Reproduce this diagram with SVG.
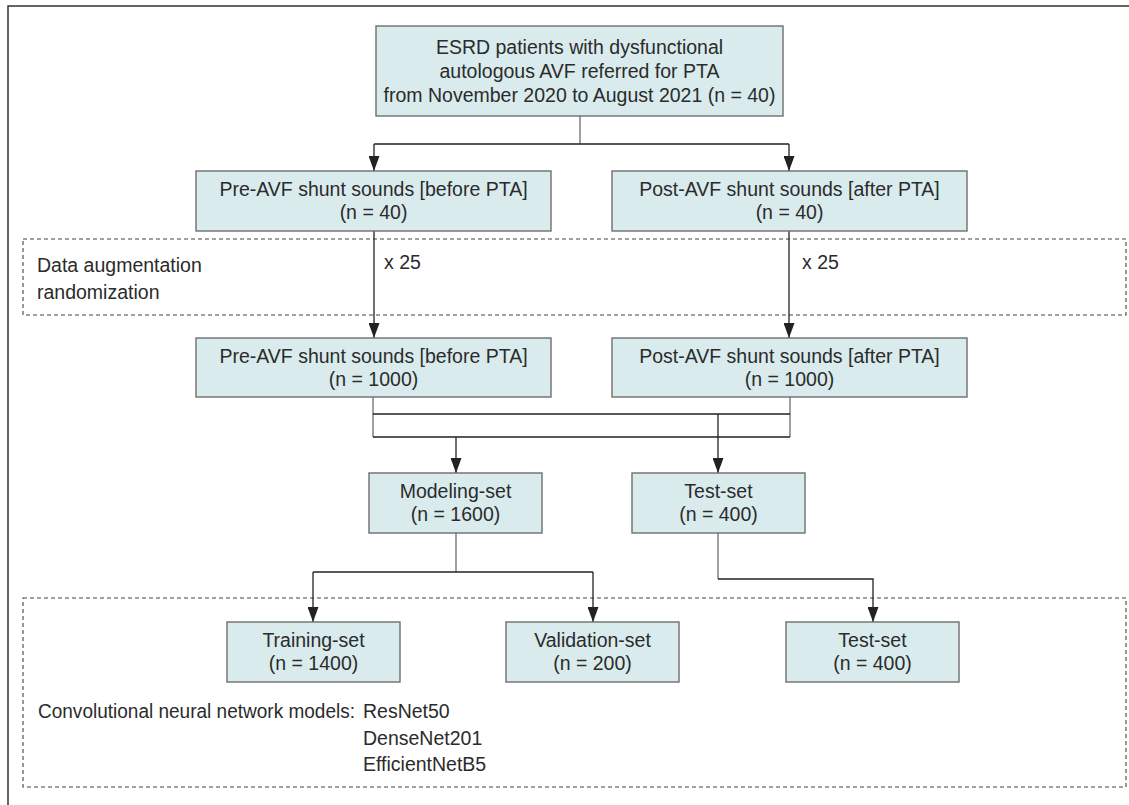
<svg xmlns="http://www.w3.org/2000/svg" width="1129" height="805" viewBox="0 0 1129 805">
<style>
.box{fill:#d9ebed;stroke:#6e6e6e;stroke-width:1.4}
.t{font-family:"Liberation Sans",Arial,sans-serif;font-size:19.5px;fill:#2b2b2b}
.c{text-anchor:middle}
.dash{fill:none;stroke:#444;stroke-width:1.1;stroke-dasharray:4 3}
.ln{fill:none;stroke:#222;stroke-width:1.3}
.stem{fill:none;stroke:#777;stroke-width:1.4}
.frame{fill:none;stroke:#333;stroke-width:1.5}
</style>
<defs>
<marker id="ah" viewBox="0 0 15 11" markerUnits="userSpaceOnUse" markerWidth="15" markerHeight="11" refX="15" refY="5.5" orient="auto">
<path d="M0,0 L15,5.5 L0,11 z" fill="#222"/>
</marker>
</defs>
<rect width="1129" height="805" fill="#fff"/>
<path class="frame" d="M8,805 V6 H1129"/>
<g id="groups">
<rect class="dash" x="23" y="239" width="1103" height="76"/>
<text class="t" x="37" y="272">Data augmentation</text>
<text class="t" x="37" y="299">randomization</text>
<rect class="dash" x="23" y="598" width="1103" height="189"/>
<text class="t" x="38" y="718" textLength="317" lengthAdjust="spacingAndGlyphs">Convolutional neural network models:</text>
<text class="t" x="363" y="718">ResNet50</text>
<text class="t" x="363" y="745">DenseNet201</text>
<text class="t" x="363" y="771">EfficientNetB5</text>
</g>
<g id="connectors">
<path class="stem" d="M580,116 V144"/>
<path class="ln" d="M374,144 H789"/>
<path class="ln" d="M374,144 V171" marker-end="url(#ah)"/>
<path class="ln" d="M789,144 V171" marker-end="url(#ah)"/>
<path class="ln" d="M374,231 V338" marker-end="url(#ah)"/>
<path class="ln" d="M789,231 V338" marker-end="url(#ah)"/>
<text class="t" x="384" y="269">x 25</text>
<text class="t" x="802" y="269">x 25</text>
<path class="stem" d="M373,397 V437 M790,397 V437"/>
<path class="ln" d="M373,414 H790 M373,437 H790"/>
<path class="ln" d="M456,437 V473" marker-end="url(#ah)"/>
<path class="ln" d="M718,414 V473" marker-end="url(#ah)"/>
<path class="stem" d="M456,533 V572"/>
<path class="ln" d="M313,572 H593"/>
<path class="ln" d="M313,572 V622" marker-end="url(#ah)"/>
<path class="ln" d="M593,572 V622" marker-end="url(#ah)"/>
<path class="stem" d="M718,533 V579"/>
<path class="ln" d="M718,579 H873 V622" marker-end="url(#ah)"/>
</g>
<g id="n-top">
<rect class="box" x="376" y="26" width="407" height="90"/>
<text class="t c" x="579.5" y="54">ESRD patients with dysfunctional</text>
<text class="t c" x="579.5" y="78">autologous AVF referred for PTA</text>
<text class="t c" x="579.5" y="102">from November 2020 to August 2021 (n = 40)</text>
</g>
<g id="n-pre40">
<rect class="box" x="196" y="171" width="355" height="60"/>
<text class="t c" x="373.5" y="196">Pre-AVF shunt sounds [before PTA]</text>
<text class="t c" x="373.5" y="219">(n = 40)</text>
</g>
<g id="n-post40">
<rect class="box" x="612" y="171" width="355" height="60"/>
<text class="t c" x="789.5" y="196">Post-AVF shunt sounds [after PTA]</text>
<text class="t c" x="789.5" y="219">(n = 40)</text>
</g>
<g id="n-pre1000">
<rect class="box" x="196" y="338" width="355" height="59"/>
<text class="t c" x="373.5" y="363">Pre-AVF shunt sounds [before PTA]</text>
<text class="t c" x="373.5" y="386">(n = 1000)</text>
</g>
<g id="n-post1000">
<rect class="box" x="612" y="338" width="355" height="59"/>
<text class="t c" x="789.5" y="363">Post-AVF shunt sounds [after PTA]</text>
<text class="t c" x="789.5" y="386">(n = 1000)</text>
</g>
<g id="n-modeling">
<rect class="box" x="369" y="473" width="173" height="60"/>
<text class="t c" x="455.5" y="498">Modeling-set</text>
<text class="t c" x="455.5" y="521">(n = 1600)</text>
</g>
<g id="n-test1">
<rect class="box" x="632" y="473" width="173" height="60"/>
<text class="t c" x="718.5" y="498">Test-set</text>
<text class="t c" x="718.5" y="521">(n = 400)</text>
</g>
<g id="n-training">
<rect class="box" x="227" y="622" width="173" height="60"/>
<text class="t c" x="313.5" y="647">Training-set</text>
<text class="t c" x="313.5" y="670">(n = 1400)</text>
</g>
<g id="n-validation">
<rect class="box" x="506" y="622" width="173" height="60"/>
<text class="t c" x="592.5" y="647">Validation-set</text>
<text class="t c" x="592.5" y="670">(n = 200)</text>
</g>
<g id="n-test2">
<rect class="box" x="786" y="622" width="173" height="60"/>
<text class="t c" x="872.5" y="647">Test-set</text>
<text class="t c" x="872.5" y="670">(n = 400)</text>
</g>
</svg>
